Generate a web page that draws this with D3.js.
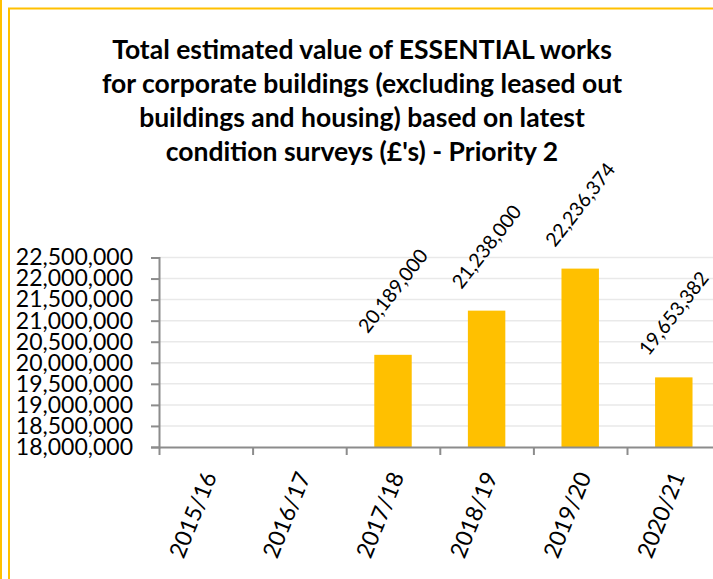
<!DOCTYPE html>
<html>
<head>
<meta charset="utf-8">
<script src="https://cdn.jsdelivr.net/npm/d3@7"></script>
<style>
	body { margin: 0; background: #fff; }
	svg { display: block; font-family: Lato, 'Open Sans', sans-serif; }
</style>
</head>
<body>
<script>

const categories = ['2015/16', '2016/17', '2017/18', '2018/19', '2019/20', '2020/21']
const values = [null, null, 20189000, 21238000, 22236374, 19653382]
const yTicks = [18000000, 18500000, 19000000, 19500000, 20000000, 20500000, 21000000, 21500000, 22000000, 22500000]
const titleLines = [
	'Total estimated value of ESSENTIAL works',
	'for corporate buildings (excluding leased out',
	'buildings and housing) based on latest',
	'condition surveys (£\'s) - Priority 2'
]

const W = 713
const H = 579
const gold = '#FFC000'

const plot = { left: 159, right: 720.6, top: 257.5, bottom: 447 }

const fmt = d3.format(',')

const svg = d3.select('body').append('svg')
	.attr('width', W)
	.attr('height', H)

// outer frames
svg.append('rect')
	.attr('x', 0).attr('y', 0)
	.attr('width', 2).attr('height', H)
	.style('fill', gold)

svg.append('rect')
	.attr('x', 9).attr('y', 8.5)
	.attr('width', W + 20).attr('height', H + 20)
	.style('fill', 'none')
	.style('stroke', gold)
	.style('stroke-width', 2)

// title
svg.append('g')
	.selectAll('text')
	.data(titleLines)
.enter().append('text')
	.attr('x', 362)
	.attr('y', function(d, i) { return 58.5 + i * 34 })
	.style('text-anchor', 'middle')
	.style('font-weight', 'bold')
	.style('font-size', '26.5px')
	.style('fill', '#000')
	.text(function(d) { return d })

const y = d3.scaleLinear()
	.domain([yTicks[0], yTicks[yTicks.length - 1]])
	.range([plot.bottom, plot.top])

const x = d3.scaleBand()
	.domain(categories)
	.range([plot.left, plot.right])
	.paddingInner(0.6)
	.paddingOuter(0.3)

// boundary scale for category ticks
const xEdge = d3.scaleLinear()
	.domain([0, categories.length])
	.range([plot.left, plot.right])

// gridlines
svg.append('g')
	.selectAll('line')
	.data(yTicks.slice(1))
.enter().append('line')
	.attr('x1', plot.left)
	.attr('x2', W)
	.attr('y1', function(d) { return y(d) })
	.attr('y2', function(d) { return y(d) })
	.style('stroke', '#e9e9e9')
	.style('stroke-width', 1.5)

const barData = categories.map(function(c, i) { return { cat: c, val: values[i] } })
	.filter(function(d) { return d.val != null })

// bars
svg.append('g')
	.selectAll('rect')
	.data(barData)
.enter().append('rect')
	.attr('x', function(d) { return x(d.cat) })
	.attr('width', x.bandwidth())
	.attr('y', function(d) { return y(d.val) })
	.attr('height', function(d) { return plot.bottom - y(d.val) })
	.style('fill', gold)

// data labels
svg.append('g')
	.selectAll('text')
	.data(barData)
.enter().append('text')
	.attr('transform', function(d) {
		return 'translate(' + (x(d.cat) + x.bandwidth() / 2) + ',' + (y(d.val) - 64) + ') rotate(-52)'
	})
	.attr('dy', '0.35em')
	.style('text-anchor', 'middle')
	.style('font-size', '19.5px')
	.style('fill', '#000')
	.text(function(d) { return fmt(d.val) })

// y axis
const yAxis = d3.axisLeft(y)
	.tickValues(yTicks)
	.tickSize(8)
	.tickPadding(18)
	.tickFormat(fmt)

const gy = svg.append('g')
	.attr('class', 'y axis')
	.attr('transform', 'translate(' + plot.left + ',0)')
	.call(yAxis)

gy.select('.domain').style('stroke', '#8c8c8c').style('stroke-width', 2)
gy.selectAll('.tick line').style('stroke', '#8c8c8c').style('stroke-width', 2)
gy.selectAll('.tick text')
	.style('font-size', '23px')
	.style('font-family', 'Lato, sans-serif')
	.style('fill', '#000')

// x axis
const xAxis = d3.axisBottom(xEdge)
	.tickValues(d3.range(categories.length + 1))
	.tickSize(8)
	.tickSizeOuter(0)
	.tickFormat('')

const gx = svg.append('g')
	.attr('class', 'x axis')
	.attr('transform', 'translate(0,' + plot.bottom + ')')
	.call(xAxis)

gx.select('.domain').style('stroke', '#8c8c8c').style('stroke-width', 2)
gx.selectAll('.tick line').style('stroke', '#8c8c8c').style('stroke-width', 2)

svg.append('g')
	.selectAll('text')
	.data(categories)
.enter().append('text')
	.attr('transform', function(d) {
		return 'translate(' + (x(d) + x.bandwidth() / 2 + 4) + ',' + (plot.bottom + 26) + ') rotate(-68)'
	})
	.attr('dy', '0.35em')
	.style('text-anchor', 'end')
	.style('font-size', '23px')
	.style('fill', '#000')
	.text(function(d) { return d })

</script>
</body>
</html>
